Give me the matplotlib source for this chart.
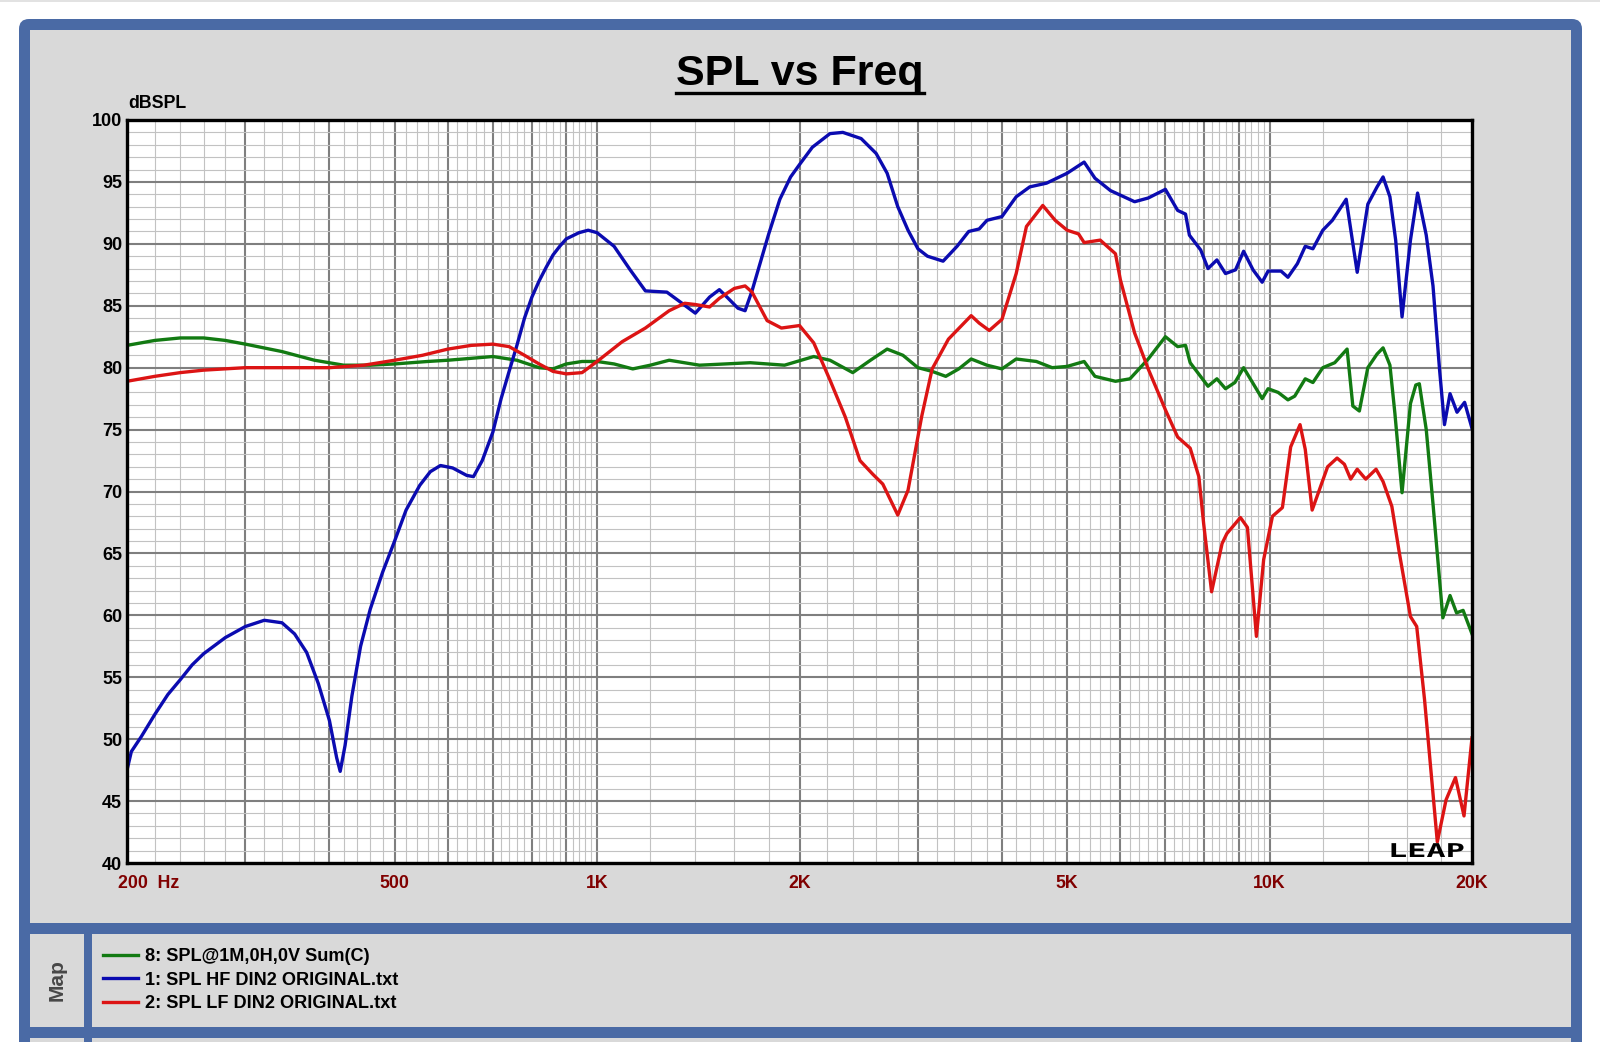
import numpy as np
import matplotlib
matplotlib.use("Agg")
import matplotlib.pyplot as plt
import matplotlib.patches as mpatches
import matplotlib.transforms as mtransforms
from matplotlib.lines import Line2D
from matplotlib.textpath import TextPath
from matplotlib.font_manager import FontProperties
from matplotlib.ticker import FixedLocator, NullFormatter

# ---------------------------------------------------------------------------
# data (frequency in Hz, level in dB SPL)
# ---------------------------------------------------------------------------
sum_f = [200, 220, 240, 260, 280, 300, 340, 380, 420, 460, 500, 560, 600, 700, 760,
         820, 860, 900, 950, 1000, 1060, 1130, 1200, 1280, 1420, 1550, 1690, 1900,
         2100, 2220, 2400, 2550, 2700, 2850, 3000, 3150, 3300, 3450, 3600, 3800, 4000,
         4200, 4500, 4750, 5000, 5300, 5500, 5900, 6200, 6600, 7000, 7300, 7500, 7620,
         8100, 8350, 8600, 8880, 9150, 9750, 9950, 10300, 10650, 10900, 11300, 11600,
         12000, 12500, 13040, 13300, 13600, 14000, 14450, 14750, 15100, 15360, 15740,
         16200, 16500, 16700, 17100, 17500, 18100, 18550, 18970, 19400, 20000]
sum_db = [81.8, 82.2, 82.4, 82.4, 82.2, 81.9, 81.3, 80.6, 80.2, 80.2, 80.3, 80.5, 80.6, 80.9, 80.6,
          80.0, 79.9, 80.3, 80.5, 80.5, 80.3, 79.9, 80.2, 80.6, 80.2, 80.3, 80.4, 80.2,
          80.9, 80.6, 79.6, 80.6, 81.5, 81.0, 80.0, 79.7, 79.3, 79.9, 80.7, 80.2, 79.9,
          80.7, 80.5, 80.0, 80.1, 80.5, 79.3, 78.9, 79.1, 80.7, 82.5, 81.7, 81.8, 80.4,
          78.5, 79.1, 78.3, 78.8, 80.0, 77.5, 78.3, 78.0, 77.4, 77.7, 79.1, 78.8,
          80.0, 80.4, 81.5, 76.9, 76.5, 80.0, 81.1, 81.6, 80.2, 76.3, 69.9,
          77.1, 78.6, 78.7, 75.0, 69.0, 59.8, 61.6, 60.2, 60.4, 58.5]

hf_f = [200, 203, 210, 220, 230, 240, 250, 260, 280, 300, 320, 340, 355, 370, 385, 400,
        410, 415, 422, 432, 445, 460, 480, 500, 520, 545, 565, 585, 610, 640, 655, 675,
        700, 720, 740, 760, 780, 800, 820, 840, 860, 880, 900, 940, 970, 1000, 1060,
        1120, 1180, 1270, 1330, 1400, 1470, 1520, 1560, 1620, 1660, 1700, 1760, 1800,
        1870, 1940, 2000, 2090, 2220, 2320, 2470, 2600, 2700, 2800, 2900, 3000, 3100,
        3270, 3430, 3570, 3700, 3800, 4000, 4200, 4400, 4660, 5000, 5300, 5500, 5800,
        6300, 6600, 7000, 7300, 7500, 7600, 7900, 8100, 8350, 8600, 8900, 9150, 9450,
        9750, 9950, 10400, 10650, 11000, 11300, 11600, 12000, 12400, 13000, 13500, 14000,
        14450, 14750, 15100, 15400, 15740, 16200, 16600, 17100, 17500, 17900, 18200,
        18550, 19000, 19500, 20000]
hf_db = [47.5, 49.0, 50.2, 52.0, 53.6, 54.8, 56.0, 56.9, 58.2, 59.1, 59.6, 59.4, 58.5, 57.0, 54.5, 51.5,
         48.5, 47.4, 49.5, 53.5, 57.5, 60.5, 63.5, 66.0, 68.5, 70.5, 71.6, 72.1, 71.9, 71.3, 71.2, 72.5,
         74.8, 77.5, 79.7, 81.8, 84.0, 85.7, 87.0, 88.1, 89.1, 89.8, 90.4, 90.9, 91.1, 90.9, 89.8,
         87.9, 86.2, 86.1, 85.3, 84.4, 85.7, 86.3, 85.7, 84.8, 84.6, 86.2, 89.0, 90.8,
         93.6, 95.4, 96.4, 97.8, 98.9, 99.0, 98.5, 97.3, 95.7, 93.0, 91.1, 89.6, 89.0,
         88.6, 89.8, 91.0, 91.2, 91.9, 92.2, 93.8, 94.6, 94.9, 95.7, 96.6, 95.3, 94.3,
         93.4, 93.7, 94.4, 92.7, 92.4, 90.7, 89.5, 88.0, 88.7, 87.6, 87.9, 89.4, 87.9,
         86.9, 87.8, 87.8, 87.3, 88.4, 89.8, 89.6, 91.1, 91.9, 93.6, 87.7, 93.2,
         94.6, 95.4, 93.8, 90.3, 84.1, 90.3, 94.1, 90.7, 86.6, 79.8, 75.4,
         77.9, 76.4, 77.2, 75.1]

lf_f = [200, 220, 240, 260, 300, 400, 450, 500, 550, 600, 650, 700, 740, 780, 820, 860,
        900, 950, 1000, 1090, 1180, 1280, 1350, 1400, 1470, 1520, 1600, 1660, 1700, 1790,
        1880, 2000, 2100, 2220, 2340, 2460, 2570, 2660, 2800, 2900, 3040, 3150, 3330,
        3600, 3700, 3830, 4000, 4200, 4350, 4600, 4800, 5000, 5200, 5300, 5600, 5900,
        6000, 6300, 6600, 7000, 7300, 7620, 7850, 7980, 8200, 8500, 8640, 9050, 9270,
        9560, 9800, 10100, 10450, 10750, 11100, 11300, 11570, 12200, 12600, 12920, 13200,
        13500, 13900, 14400, 14750, 15200, 15600, 16200, 16550, 17000, 17500, 17760,
        18300, 18900, 19460, 20000]
lf_db = [78.9, 79.3, 79.6, 79.8, 80.0, 80.0, 80.2, 80.6, 81.0, 81.5, 81.8, 81.9, 81.7, 81.0, 80.3, 79.7,
         79.5, 79.6, 80.5, 82.1, 83.2, 84.6, 85.2, 85.1, 84.9, 85.6, 86.4, 86.6, 86.1, 83.8,
         83.2, 83.4, 82.0, 79.0, 76.0, 72.5, 71.4, 70.6, 68.1, 70.1, 76.1, 79.9, 82.3,
         84.2, 83.6, 83.0, 83.9, 87.6, 91.4, 93.1, 91.9, 91.1, 90.8, 90.1, 90.3, 89.2,
         87.1, 82.8, 79.9, 76.6, 74.4, 73.5, 71.2, 67.4, 61.9, 65.8, 66.6, 67.9, 67.1,
         58.3, 64.5, 68.0, 68.7, 73.6, 75.4, 73.4, 68.5, 72.0, 72.7, 72.2, 71.0,
         71.8, 71.0, 71.8, 70.8, 68.8, 65.0, 59.9, 59.1, 53.2, 45.6, 41.7,
         45.1, 46.9, 43.8, 50.1]

series_labels = ["8: SPL@1M,0H,0V Sum(C)", "1: SPL HF DIN2 ORIGINAL.txt", "2: SPL LF DIN2 ORIGINAL.txt"]
series_colors = ["#127a12", "#0b0bb0", "#dc1414"]

x_tick_vals = [200, 500, 1000, 2000, 5000, 10000, 20000]
x_tick_text = ["200  Hz", "500", "1K", "2K", "5K", "10K", "20K"]
y_tick_vals = list(range(40, 101, 5))

# ---------------------------------------------------------------------------
plt.rcParams['font.family'] = ['Liberation Sans', 'DejaVu Sans']

W, H = 1600, 1042
BLUE = "#4a6aa5"
GRAY = "#d9d9d9"
ident = mtransforms.IdentityTransform()

fig = plt.figure(figsize=(W / 100, H / 100), dpi=100, facecolor="white")


def box(x0, y0, x1, y1, color, z=-5):
    # pixel box, y measured from the top
    r = mpatches.Rectangle((x0, H - y1), x1 - x0, y1 - y0, transform=ident,
                           facecolor=color, edgecolor="none", zorder=z)
    fig.add_artist(r)


box(0, 0, W, 2, "#e2e2e2", z=-9)
frame = mpatches.FancyBboxPatch((19, -30), 1563, H - 19 + 30,
                                boxstyle="round,pad=0,rounding_size=10",
                                transform=ident, facecolor=BLUE, edgecolor="none", zorder=-8)
fig.add_artist(frame)
box(30, 30, 1571, 923, GRAY)
box(30, 934, 84, 1027, GRAY)
box(92, 934, 1571, 1027, GRAY)
box(30, 1038, 84, H + 5, GRAY)
box(92, 1038, 1571, H + 5, GRAY)

# ---------------------------------------------------------------------------
ax = fig.add_axes([127 / W, (H - 863) / H, (1472 - 127) / W, (863 - 120) / H])
ax.set_facecolor("white")

handles = []
for fx, db, lab, col in zip([sum_f, hf_f, lf_f], [sum_db, hf_db, lf_db], series_labels, series_colors):
    ln, = ax.plot(fx, db, color=col, lw=2.4, label=lab, solid_joinstyle="round", zorder=3)
    handles.append(ln)

ax.set_xscale("log")
ax.set_xlim(200, 20000)
ax.set_ylim(40, 100)

x_major = list(range(200, 1001, 100)) + list(range(2000, 10001, 1000)) + [20000]
x_minor = list(range(200, 1000, 20)) + list(range(1000, 10000, 200)) + list(range(10000, 20000, 2000))
ax.xaxis.set_major_locator(FixedLocator(x_major))
ax.xaxis.set_minor_locator(FixedLocator(x_minor))
ax.xaxis.set_minor_formatter(NullFormatter())
ax.xaxis.set_major_formatter(NullFormatter())
ax.yaxis.set_major_locator(FixedLocator(y_tick_vals))
ax.yaxis.set_minor_locator(FixedLocator(list(range(40, 101))))
ax.yaxis.set_minor_formatter(NullFormatter())
ax.set_yticklabels([str(v) for v in y_tick_vals])

ax.grid(which="minor", color="#c2c2c2", lw=0.8)
ax.grid(which="major", color="#7f7f7f", lw=1.5)
ax.set_axisbelow(True)
ax.tick_params(which="both", length=0)
ax.tick_params(axis="y", pad=3.5, labelsize=13)
for t in ax.get_yticklabels():
    t.set_fontweight("bold")
for s in ax.spines.values():
    s.set_linewidth(2.4)
    s.set_color("black")
    s.set_zorder(4)

# x labels in the axis' data space
xt = mtransforms.blended_transform_factory(ax.transData, ax.transAxes)
for v, txt in zip(x_tick_vals, x_tick_text):
    if v == x_tick_vals[0]:
        off = mtransforms.ScaledTranslation(-9 / 100, -12 / 100, fig.dpi_scale_trans)
        ax.text(v, 0, txt, transform=xt + off, ha="left", va="top", fontsize=12.8,
                fontweight="bold", color="#800000", clip_on=False)
    else:
        off = mtransforms.ScaledTranslation(0, -12 / 100, fig.dpi_scale_trans)
        ax.text(v, 0, txt, transform=xt + off, ha="center", va="top", fontsize=12.8,
                fontweight="bold", color="#800000", clip_on=False)

fig.text(128 / W, 1 - 104 / H, "dBSPL", ha="left", va="center", fontsize=12.8, fontweight="bold")

title = fig.text(0.5, 1 - 85 / H, "SPL vs Freq", ha="center", va="baseline",
                 fontsize=31, fontweight="bold")

# legend panel
fig.text(57 / W, 1 - 980 / H, "Map", rotation=90, ha="center", va="center",
         fontsize=15, fontweight="bold", color="#474747")
fig.legend(handles=handles, loc="upper left", bbox_to_anchor=(103 / W, 1 - 948 / H),
           frameon=False, prop={"weight": "bold", "size": 13.1},
           handlelength=1.95, handletextpad=0.35, labelspacing=0.37, borderpad=0,
           borderaxespad=0)

# LEAP logo, stretched wide like the original bitmap
tp = TextPath((0, 0), "LEAP", size=19, prop=FontProperties(family="DejaVu Sans Mono", weight="bold"))
logo_tr = mtransforms.Affine2D().scale(1.68, 1.0).translate(1388, H - 857)
fig.add_artist(mpatches.PathPatch(tp, transform=logo_tr, facecolor="black", edgecolor="none", zorder=6))

# underline the title
fig.canvas.draw()
bb = title.get_window_extent()
fig.add_artist(Line2D([bb.x0, bb.x1], [H - 93, H - 93], transform=ident, color="black", lw=2.4))

fig.savefig("out.png", dpi=100, facecolor=fig.get_facecolor())
